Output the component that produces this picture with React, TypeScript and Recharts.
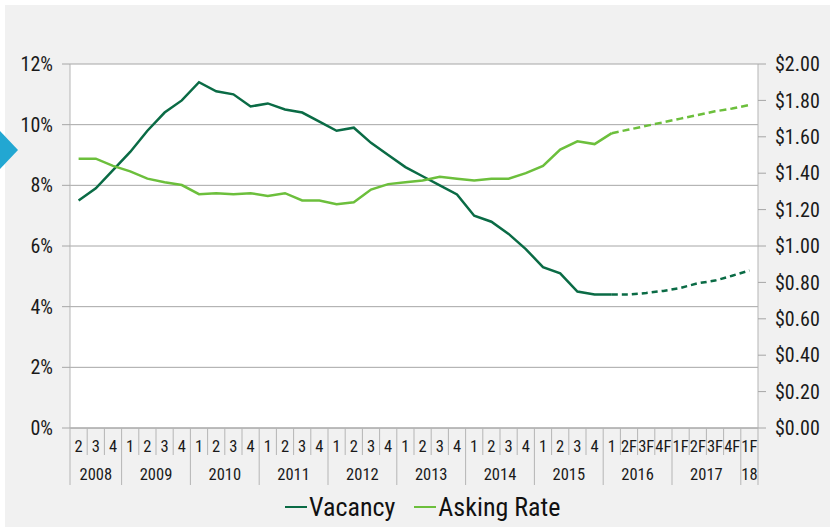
import React from 'react';
import { LineChart, Line, XAxis, YAxis, CartesianGrid } from 'recharts';

// quarter labels along the x axis, 2008 Q2 .. 2018 Q1F
const quarters = [
  '2', '3', '4',
  '1', '2', '3', '4',
  '1', '2', '3', '4',
  '1', '2', '3', '4',
  '1', '2', '3', '4',
  '1', '2', '3', '4',
  '1', '2', '3', '4',
  '1', '2', '3', '4',
  '1', '2F', '3F', '4F',
  '1F', '2F', '3F', '4F',
  '1F',
];
const yearLabels = ['2008', '2009', '2010', '2011', '2012', '2013', '2014', '2015', '2016', '2017', '18'];
const yearCounts = [3, 4, 4, 4, 4, 4, 4, 4, 4, 4, 1];

// vacancy rate (%), left axis
const vacancy = [
  7.5, 7.9, 8.5,
  9.1, 9.8, 10.4, 10.8,
  11.4, 11.1, 11.0, 10.6,
  10.7, 10.5, 10.4, 10.1,
  9.8, 9.9, 9.4, 9.0,
  8.6, 8.3, 8.0, 7.7,
  7.0, 6.8, 6.4, 5.9,
  5.3, 5.1, 4.5, 4.4,
  4.4, 4.4, 4.45, 4.52,
  4.62, 4.77, 4.86, 5.02,
  5.19,
];

// asking rate ($), right axis
const askingRate = [
  1.48, 1.48, 1.44,
  1.41, 1.37, 1.35, 1.335,
  1.285, 1.29, 1.285, 1.29,
  1.275, 1.29, 1.25, 1.25,
  1.23, 1.24, 1.31, 1.34,
  1.35, 1.36, 1.38, 1.37,
  1.36, 1.37, 1.37, 1.4,
  1.44, 1.53, 1.575, 1.56,
  1.62, 1.64, 1.66, 1.68,
  1.70, 1.72, 1.74, 1.755,
  1.775,
];

// first index drawn as a forecast (dashed)
const forecastFrom = 31;

const pctTicks = [0, 2, 4, 6, 8, 10, 12];
const rateTicks = [0, 0.2, 0.4, 0.6, 0.8, 1.0, 1.2, 1.4, 1.6, 1.8, 2.0];

const data = quarters.map((q, i) => ({
  idx: i,
  q,
  vac: i <= forecastFrom ? vacancy[i] : null,
  vacF: i >= forecastFrom ? vacancy[i] : null,
  ask: i <= forecastFrom ? askingRate[i] : null,
  askF: i >= forecastFrom ? askingRate[i] : null,
}));

const yearStarts = yearCounts.map((_, k) => yearCounts.slice(0, k).reduce((a, b) => a + b, 0));

const FONT = "'Liberation Sans Narrow', 'Roboto Condensed', 'DejaVu Sans Condensed', sans-serif";
const DARK = '#0a6b45';
const LIGHT = '#6cbf3c';
const GRID = '#a6a6a6';
const AXIS = '#b5b5b5';
const W = 834;
const H = 527;
const PLOT_LEFT = 70;
const PLOT_RIGHT = 758;
const PLOT_BOTTOM = 428;
const BAND = (PLOT_RIGHT - PLOT_LEFT) / quarters.length;

const QuarterTick = (props: any) => {
  const { x, payload } = props;
  const i = Number(payload.value);
  const left = x - BAND / 2;
  const k = yearStarts.indexOf(i);
  const isLast = i === quarters.length - 1;
  return (
    <g>
      <line x1={left} x2={left} y1={PLOT_BOTTOM} y2={k >= 0 ? 485 : 455} stroke={AXIS} strokeWidth={1} />
      {isLast && (
        <line x1={left + BAND} x2={left + BAND} y1={PLOT_BOTTOM} y2={485} stroke={AXIS} strokeWidth={1} />
      )}
      <text x={x} y={446} textAnchor="middle" dominantBaseline="central" fontSize={16.5} fontFamily={FONT} fill="#1a1a1a">
        {quarters[i]}
      </text>
      {k >= 0 && (
        <text
          x={left + (yearCounts[k] * BAND) / 2}
          y={474}
          textAnchor="middle"
          dominantBaseline="central"
          fontSize={16.5}
          fontFamily={FONT}
          fill="#1a1a1a"
        >
          {yearLabels[k]}
        </text>
      )}
    </g>
  );
};

const LegendItem = ({ color, label }: { color: string; label: string }) => (
  <div style={{ display: 'flex', alignItems: 'center', marginRight: 19 }}>
    <div style={{ width: 22, height: 2.5, background: color, marginRight: 2 }} />
    <span>{label}</span>
  </div>
);

export default function App() {
  const tickStyle = { fontSize: 20, fontFamily: FONT, fill: '#1a1a1a' };
  return (
    <div style={{ position: 'absolute', left: 0, top: 0, width: W, height: H, background: '#fff', overflow: 'hidden' }}>
      <div style={{ position: 'absolute', left: 5, top: 5, width: 825, height: 522, background: '#f1f1f1' }} />
      <svg style={{ position: 'absolute', left: 0, top: 0 }} width={30} height={200}>
        <polygon points="0,131 18,150 0,169" fill="#22a7d2" />
      </svg>
      <div style={{ position: 'absolute', left: 0, top: 0 }}>
        <LineChart width={W} height={H} data={data} margin={{ top: 64, right: 0, bottom: 39, left: 0 }}>
          <CartesianGrid yAxisId="left" vertical={false} stroke={GRID} fill="#ffffff" />
          <XAxis
            dataKey="idx"
            type="number"
            domain={[-0.5, quarters.length - 0.5]}
            ticks={data.map((d) => d.idx)}
            interval={0}
            height={60}
            tickLine={false}
            axisLine={{ stroke: GRID }}
            tick={<QuarterTick />}
          />
          <YAxis
            yAxisId="left"
            width={70}
            domain={[0, 12]}
            ticks={pctTicks}
            tickFormatter={(v: number) => `${v}%`}
            tickSize={8}
            tickMargin={9}
            tickLine={{ stroke: GRID }}
            axisLine={{ stroke: AXIS }}
            tick={tickStyle}
            interval={0}
          />
          <YAxis
            yAxisId="right"
            orientation="right"
            width={76}
            domain={[0, 2]}
            ticks={rateTicks}
            tickFormatter={(v: number) => `$${v.toFixed(2)}`}
            tickSize={8}
            tickMargin={9}
            tickLine={{ stroke: GRID }}
            axisLine={{ stroke: AXIS }}
            tick={tickStyle}
            interval={0}
          />
          <Line yAxisId="left" dataKey="vac" stroke={DARK} strokeWidth={2.5} dot={false} isAnimationActive={false} />
          <Line
            yAxisId="left"
            dataKey="vacF"
            stroke={DARK}
            strokeWidth={2.5}
            strokeDasharray="6 4"
            dot={false}
            isAnimationActive={false}
          />
          <Line yAxisId="right" dataKey="ask" stroke={LIGHT} strokeWidth={2.5} dot={false} isAnimationActive={false} />
          <Line
            yAxisId="right"
            dataKey="askF"
            stroke={LIGHT}
            strokeWidth={2.5}
            strokeDasharray="7 4"
            dot={false}
            isAnimationActive={false}
          />
        </LineChart>
      </div>
      <div
        style={{
          position: 'absolute',
          left: 285,
          top: 491,
          display: 'flex',
          fontFamily: FONT,
          fontSize: 26,
          lineHeight: '32px',
          color: '#111',
        }}
      >
        <LegendItem color={DARK} label="Vacancy" />
        <LegendItem color={LIGHT} label="Asking Rate" />
      </div>
    </div>
  );
}
